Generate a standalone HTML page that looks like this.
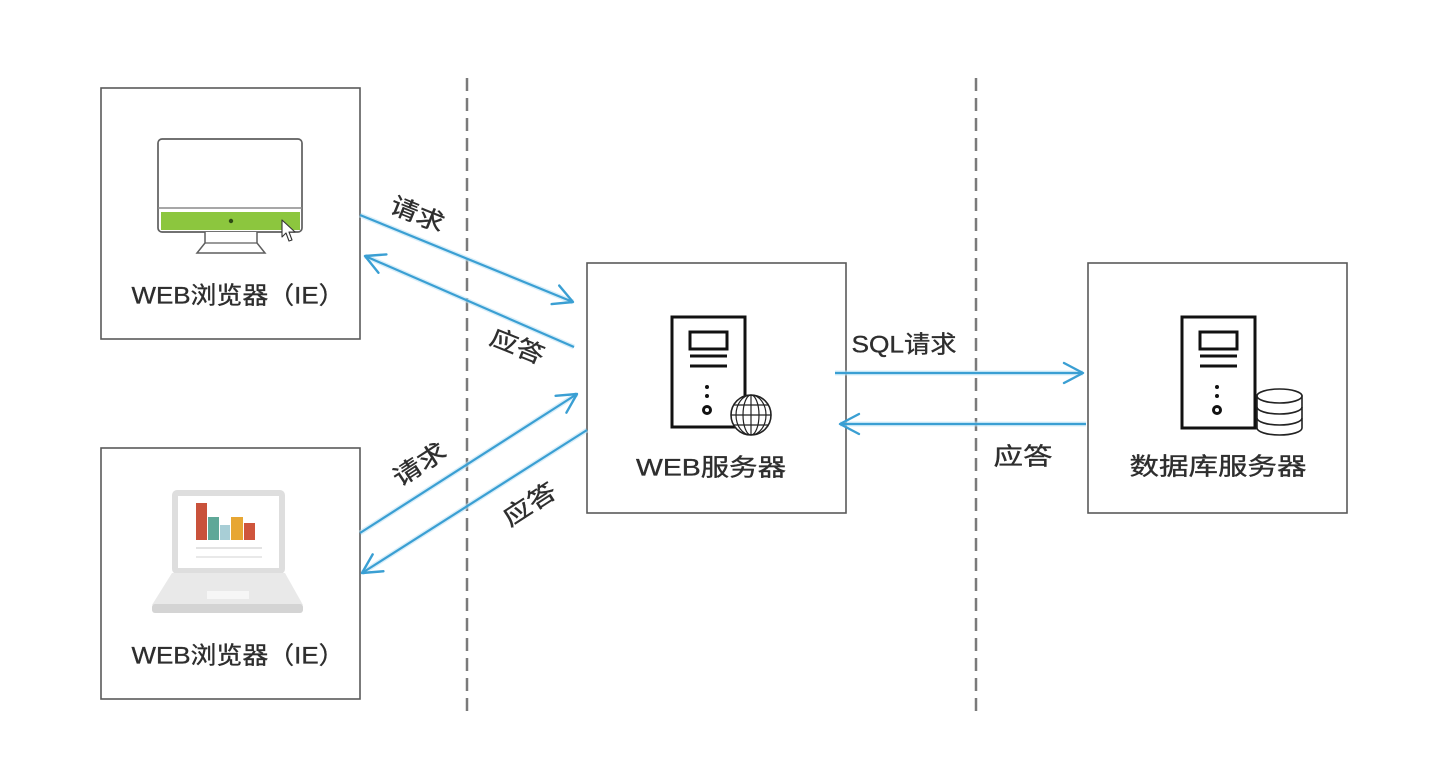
<!DOCTYPE html>
<html>
<head>
<meta charset="utf-8">
<style>
html,body{margin:0;padding:0;background:#fff;}
svg{display:block;}
text{font-family:"Liberation Sans","Noto Sans CJK SC",sans-serif;fill:#2e2e2e;stroke:#2e2e2e;stroke-width:0.35;}
</style>
</head>
<body>
<svg width="1442" height="783" viewBox="0 0 1442 783" xmlns="http://www.w3.org/2000/svg">
<defs>
<marker id="ah" markerUnits="userSpaceOnUse" markerWidth="40" markerHeight="40" refX="0" refY="0" orient="auto" overflow="visible" viewBox="-30 -20 40 40">
<path d="M-19,-10 L0,0 L-19,10" fill="none" stroke="#3a9fd3" stroke-width="2.4" stroke-linecap="round" stroke-linejoin="round"/>
</marker>
</defs>
<rect width="1442" height="783" fill="#fff"/>

<!-- dashed separators -->
<line x1="467" y1="78" x2="467" y2="716" stroke="#7a7a7a" stroke-width="2.5" stroke-dasharray="13 7"/>
<line x1="976" y1="78" x2="976" y2="716" stroke="#7a7a7a" stroke-width="2.5" stroke-dasharray="13 7"/>

<!-- boxes -->
<rect x="101" y="88" width="259" height="251" fill="#fff" stroke="#5a5a5a" stroke-width="1.6"/>
<rect x="101" y="448" width="259" height="251" fill="#fff" stroke="#5a5a5a" stroke-width="1.6"/>
<rect x="587" y="263" width="259" height="250" fill="#fff" stroke="#5a5a5a" stroke-width="1.6"/>
<rect x="1088" y="263" width="259" height="250" fill="#fff" stroke="#5a5a5a" stroke-width="1.6"/>

<!-- monitor icon -->
<rect x="158" y="139" width="144" height="93" rx="4" fill="#fff" stroke="#5e5e5e" stroke-width="1.7"/>
<line x1="158" y1="208" x2="302" y2="208" stroke="#8a8a8a" stroke-width="1.4"/>
<rect x="161" y="212" width="139" height="18" fill="#8cc63e"/>
<circle cx="231" cy="221" r="2.2" fill="#2d4a14"/>
<path d="M205,232 L205,243 L197,253 L265,253 L257,243 L257,232" fill="#fff" stroke="#5e5e5e" stroke-width="1.5"/>
<line x1="205" y1="243" x2="257" y2="243" stroke="#5e5e5e" stroke-width="1.3"/>
<path d="M282,220 L282,237 L286,233 L289,241 L292,240 L289,232 L295,232 Z" fill="#fff" stroke="#333" stroke-width="1.1" stroke-linejoin="round"/>

<!-- laptop icon -->
<rect x="172" y="490" width="113" height="84" rx="5" fill="#dedede"/>
<rect x="178" y="496" width="101" height="72" fill="#fff"/>
<rect x="196" y="503" width="11" height="37" fill="#c9523b"/>
<rect x="208" y="517" width="11" height="23" fill="#5fa898"/>
<rect x="220" y="525" width="10" height="15" fill="#a8ced6"/>
<rect x="231" y="517" width="12" height="23" fill="#e7a633"/>
<rect x="244" y="523" width="11" height="17" fill="#cf553c"/>
<line x1="196" y1="548" x2="262" y2="548" stroke="#dadada" stroke-width="1.5"/>
<line x1="196" y1="557" x2="262" y2="557" stroke="#e2e2e2" stroke-width="1.5"/>
<path d="M172,573 L285,573 L303,605 L152,605 Z" fill="#e9e9e9"/>
<rect x="152" y="604" width="151" height="9" rx="3" fill="#d4d4d4"/>
<rect x="207" y="591" width="42" height="8" fill="#f6f6f6"/>

<!-- web server icon -->
<rect x="672" y="317" width="73" height="110" fill="#fff" stroke="#111" stroke-width="3"/>
<rect x="690" y="332" width="37" height="17" fill="none" stroke="#111" stroke-width="3"/>
<line x1="690" y1="356" x2="727" y2="356" stroke="#111" stroke-width="3"/>
<line x1="690" y1="366" x2="727" y2="366" stroke="#111" stroke-width="3"/>
<circle cx="707" cy="387" r="2" fill="#111"/>
<circle cx="707" cy="396" r="2" fill="#111"/>
<circle cx="707" cy="410" r="5" fill="#111"/>
<circle cx="707" cy="410" r="2" fill="#fff"/>
<g stroke="#222" stroke-width="1.2" fill="none">
<circle cx="751" cy="415" r="20" fill="#fff" stroke-width="1.6"/>
<ellipse cx="751" cy="415" rx="8" ry="20"/>
<ellipse cx="751" cy="415" rx="15" ry="20"/>
<line x1="751" y1="395" x2="751" y2="435"/>
<line x1="731" y1="415" x2="771" y2="415"/>
<line x1="734" y1="405" x2="768" y2="405"/>
<line x1="734" y1="425" x2="768" y2="425"/>
</g>

<!-- db server icon -->
<rect x="1182" y="317" width="73" height="111" fill="#fff" stroke="#111" stroke-width="3"/>
<rect x="1200" y="332" width="37" height="17" fill="none" stroke="#111" stroke-width="3"/>
<line x1="1200" y1="356" x2="1237" y2="356" stroke="#111" stroke-width="3"/>
<line x1="1200" y1="366" x2="1237" y2="366" stroke="#111" stroke-width="3"/>
<circle cx="1217" cy="387" r="2" fill="#111"/>
<circle cx="1217" cy="396" r="2" fill="#111"/>
<circle cx="1217" cy="410" r="5" fill="#111"/>
<circle cx="1217" cy="410" r="2" fill="#fff"/>
<g stroke="#222" stroke-width="1.6" fill="#fff">
<path d="M1257,396 L1257,428 A22.5,7 0 0 0 1302,428 L1302,396 Z"/>
<ellipse cx="1279.5" cy="396" rx="22.5" ry="7"/>
<path d="M1257,407 A22.5,7 0 0 0 1302,407" fill="none"/>
<path d="M1257,418 A22.5,7 0 0 0 1302,418" fill="none"/>
</g>

<!-- arrows (glow + line) -->
<g stroke="#bfe4f6" stroke-width="5" opacity="0.6" fill="none">
<line x1="360" y1="215" x2="573" y2="302"/>
<line x1="574" y1="347" x2="365" y2="256"/>
<line x1="360" y1="533" x2="577" y2="394"/>
<line x1="587" y1="430" x2="362" y2="573"/>
<line x1="835" y1="373" x2="1083" y2="373"/>
<line x1="1086" y1="424" x2="840" y2="424"/>
</g>
<g stroke="#3a9fd3" stroke-width="2.2" fill="none">
<line x1="360" y1="215" x2="573" y2="302" marker-end="url(#ah)"/>
<line x1="574" y1="347" x2="365" y2="256" marker-end="url(#ah)"/>
<line x1="360" y1="533" x2="577" y2="394" marker-end="url(#ah)"/>
<line x1="587" y1="430" x2="362" y2="573" marker-end="url(#ah)"/>
<line x1="835" y1="373" x2="1083" y2="373" marker-end="url(#ah)"/>
<line x1="1086" y1="424" x2="840" y2="424" marker-end="url(#ah)"/>
</g>

<!-- box labels -->
<text x="238" y="296" font-size="24" text-anchor="middle" dominant-baseline="central" textLength="213" lengthAdjust="spacingAndGlyphs">WEB浏览器（IE）</text>
<text x="238" y="656" font-size="24" text-anchor="middle" dominant-baseline="central" textLength="213" lengthAdjust="spacingAndGlyphs">WEB浏览器（IE）</text>
<text x="711" y="468" font-size="24" text-anchor="middle" dominant-baseline="central" textLength="150" lengthAdjust="spacingAndGlyphs">WEB服务器</text>
<text x="1218" y="467" font-size="24" text-anchor="middle" dominant-baseline="central" textLength="177" lengthAdjust="spacingAndGlyphs">数据库服务器</text>

<!-- connector labels -->
<text x="904" y="345" font-size="24" text-anchor="middle" dominant-baseline="central" textLength="105" lengthAdjust="spacingAndGlyphs">SQL请求</text>
<text x="1023" y="457" font-size="24" text-anchor="middle" dominant-baseline="central" textLength="59" lengthAdjust="spacingAndGlyphs">应答</text>
<text transform="translate(417,215) rotate(22)" font-size="24" text-anchor="middle" dominant-baseline="central" textLength="56" lengthAdjust="spacingAndGlyphs">请求</text>
<text transform="translate(517,347) rotate(22)" font-size="24" text-anchor="middle" dominant-baseline="central" textLength="56" lengthAdjust="spacingAndGlyphs">应答</text>
<text transform="translate(420,465) rotate(-33)" font-size="24" text-anchor="middle" dominant-baseline="central" textLength="58" lengthAdjust="spacingAndGlyphs">请求</text>
<text transform="translate(530,505) rotate(-33)" font-size="24" text-anchor="middle" dominant-baseline="central" textLength="58" lengthAdjust="spacingAndGlyphs">应答</text>
</svg>
</body>
</html>
